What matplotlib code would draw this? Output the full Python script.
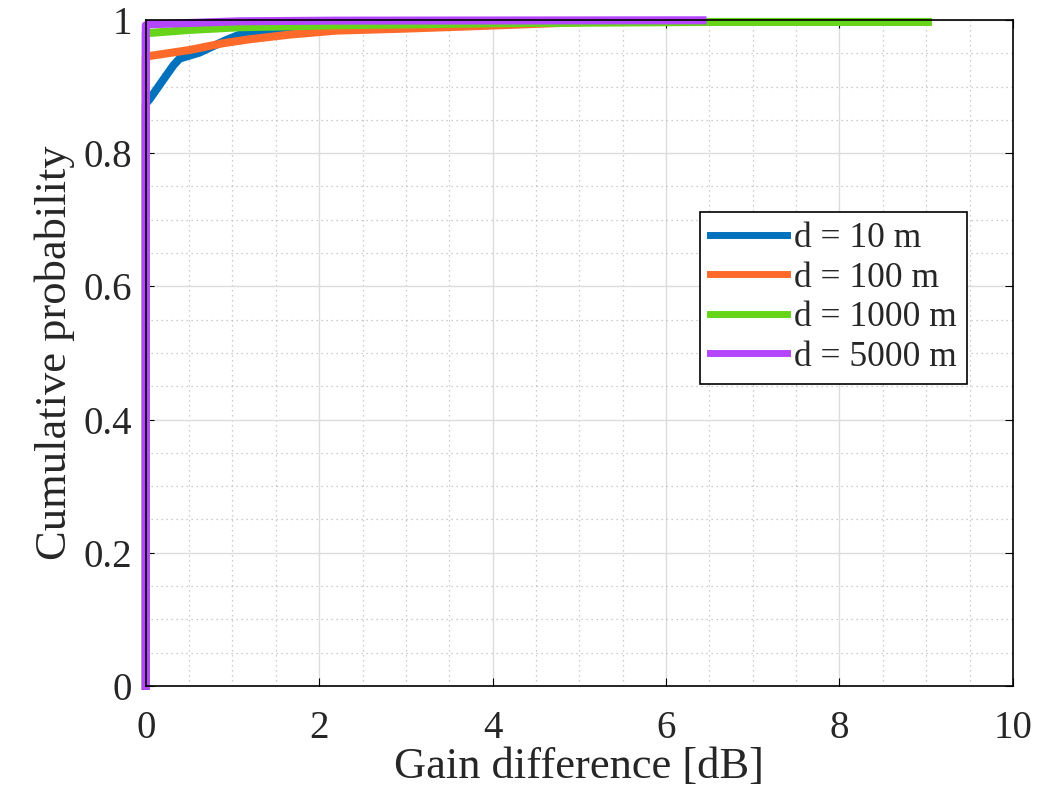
import numpy as np
import matplotlib.pyplot as plt
from matplotlib.ticker import MultipleLocator

# values (gain difference dB, cumulative prob)
x_10 = [0, 0, 0.05, 0.2, 0.32, 0.39, 0.62, 0.93, 1.16, 1.47, 2.0, 3.0, 4.0]
y_10 = [0, 0.874, 0.882, 0.910, 0.932, 0.942, 0.951, 0.970, 0.982, 0.985, 0.988, 0.991, 0.993]

x_100 = [0, 0, 0.05, 0.51, 0.89, 1.2, 1.66, 2.2, 3.0, 3.66, 4.5, 5.09]
y_100 = [0, 0.944, 0.946, 0.955, 0.965, 0.971, 0.978, 0.984, 0.987, 0.990, 0.994, 0.997]

x_1000 = [0, 0, 0.5, 1.08, 2.2, 4.0, 6.5, 9.02]
y_1000 = [0, 0.980, 0.985, 0.989, 0.992, 0.995, 0.997, 0.997]

x_5000 = [0, 0, 0.05, 1.08, 2.2, 6.42]
y_5000 = [0, 0.992, 0.9935, 0.998, 0.999, 0.9995]

labels = ["d = 10 m", "d = 100 m", "d = 1000 m", "d = 5000 m"]
colors = ["#0072BD", "#FF6A2A", "#66D51A", "#B446FF"]
xticks = [0, 2, 4, 6, 8, 10]
yticks = [0, 0.2, 0.4, 0.6, 0.8, 1]

plt.rcParams["font.family"] = ["Liberation Serif", "DejaVu Serif"]
plt.rcParams["text.color"] = "#262626"
plt.rcParams["axes.labelcolor"] = "#262626"
plt.rcParams["xtick.labelcolor"] = "#262626"
plt.rcParams["ytick.labelcolor"] = "#262626"

fig = plt.figure(figsize=(10.64, 7.98), dpi=100)
ax = fig.add_axes([0.137, 0.1404, 0.815, 0.8346])

series = [(x_10, y_10), (x_100, y_100), (x_1000, y_1000), (x_5000, y_5000)]
for (xs, ys), lab, c in zip(series, labels, colors):
    ax.plot(xs, ys, color=c, lw=5.8, label=lab, clip_on=False)

ax.set_xlim(0, 10)
ax.set_ylim(0, 1)
ax.set_xticks(xticks)
ax.set_xticklabels([f"{v:g}" for v in xticks])
ax.set_yticks(yticks)
ax.set_yticklabels([f"{v:g}" for v in yticks])
ax.xaxis.set_minor_locator(MultipleLocator(0.5))
ax.yaxis.set_minor_locator(MultipleLocator(0.05))

ax.grid(which="major", color="#dcdcdc", lw=1, ls="-")
ax.grid(which="minor", color="#bdbdbd", lw=0.9, ls=(0, (1, 3)))
ax.set_axisbelow(True)
ax.tick_params(which="both", direction="in", top=True, right=True, labelsize=28)
ax.tick_params(axis="x", pad=17)
ax.tick_params(axis="y", pad=10)
ax.tick_params(which="minor", length=0)
ax.tick_params(which="major", length=6)
for s in ax.spines.values():
    s.set_linewidth(1.2)

ax.set_xlabel("Gain difference [dB]", fontsize=32, labelpad=0)
ax.set_ylabel("Cumulative probability", fontsize=32, labelpad=6)

leg = ax.legend(loc="upper right", bbox_to_anchor=(0.947, 0.712), fontsize=25.5,
                frameon=True, fancybox=False, edgecolor="black", framealpha=1,
                borderaxespad=0, handlelength=2.15, handletextpad=0.2,
                labelspacing=0.18, borderpad=0.3)
leg.get_frame().set_linewidth(1.2)
for h in leg.get_lines():
    h.set_linewidth(5)

fig.savefig("out.png", dpi=100)
